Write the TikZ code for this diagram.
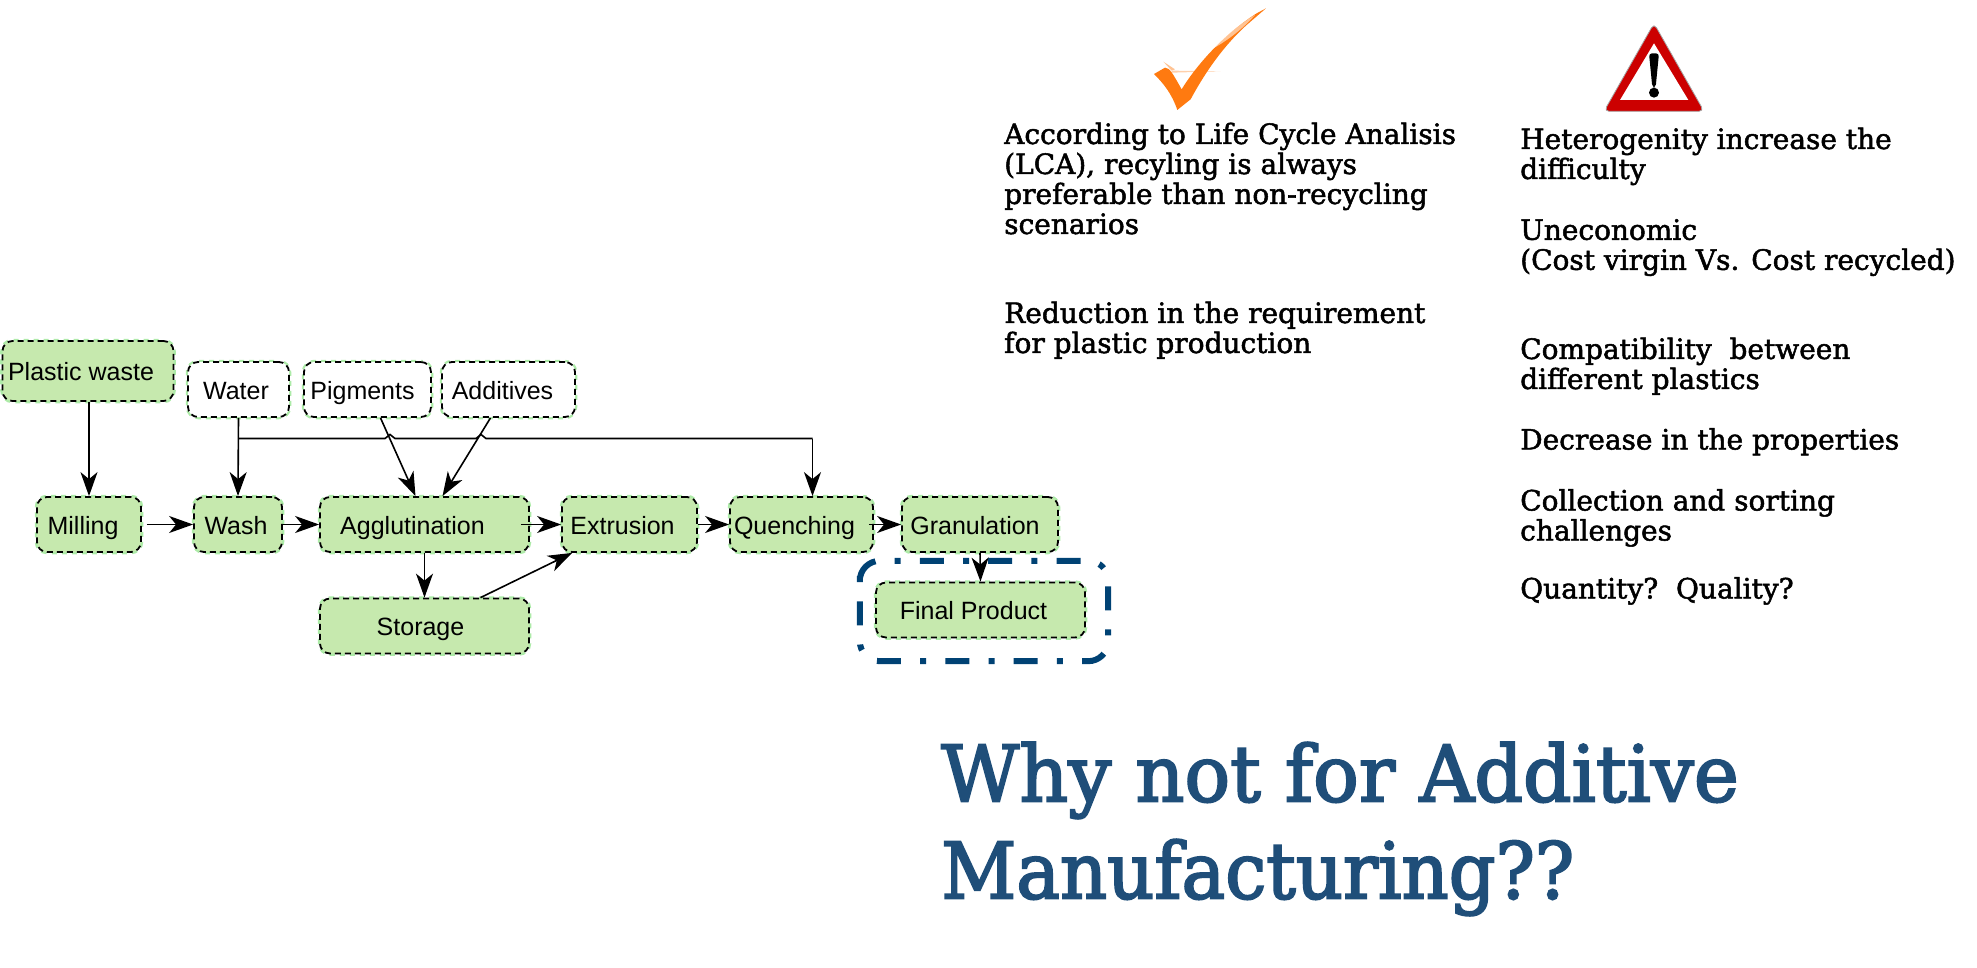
\documentclass[tikz,border=0pt]{standalone}
\usepackage{fontspec}
\setmainfont{Liberation Sans}
\newfontfamily\slabfont[FakeStretch=1.0, FakeBold=1.8]{DejaVu Serif}
\newfontfamily\titlefont[FakeStretch=0.975, FakeBold=2.5]{DejaVu Serif}
\usetikzlibrary{arrows.meta}
\definecolor{boxgreen}{HTML}{C6E9AE}
\definecolor{glowgreen}{HTML}{ADEBA8}
\definecolor{titleblue}{HTML}{1F4E79}
\definecolor{framenavy}{HTML}{004274}
\definecolor{tickorange}{HTML}{FF7A10}
\definecolor{signred}{HTML}{CC0000}
\tikzset{
  plainbox/.style={rounded corners=10pt, inner sep=0pt, draw=black, fill=white, line width=1.8pt,
    dash pattern=on 6pt off 4pt, font=\fontsize{25}{30}\selectfont,
    text height=21pt, text depth=2pt,
    preaction={draw=glowgreen, solid, line width=4.5pt, dash pattern=on 5pt off 5pt, dash phase=5pt}},
  processbox/.style={plainbox, fill=boxgreen},
  boxsize/.style 2 args={minimum width=#1pt, minimum height=#2pt},
  nudge/.style={execute at begin node={\kern-#1pt}},
  flow/.style={draw=black, line width=1.6pt, -{Stealth[length=24pt, width=17pt, inset=7pt]}},
  pipe/.style={draw=black, line width=1.6pt},
  slabtext/.style={inner sep=0pt, anchor=north west, align=left, font=\slabfont\fontsize{28}{30}\selectfont},
}
\begin{document}
\begin{tikzpicture}[x=1pt, y=-1pt]
        \useasboundingbox (0,0) rectangle (1977,968);
        % input boxes
        \node[processbox, boxsize={171}{60}, nudge=14] (plastic) at (88,371) {Plastic waste};
        \node[plainbox, boxsize={101}{55}, nudge=5] (water) at (238.5,389.5) {Water};
        \node[plainbox, boxsize={127}{55}, nudge=10] (pigments) at (367.5,389.5) {Pigments};
        \node[plainbox, boxsize={133}{55}, nudge=12] (additives) at (508.5,389.5) {Additives};
        % main line
        \node[processbox, boxsize={104}{55}, nudge=12] (milling) at (89,524.5) {Milling};
        \node[processbox, boxsize={88}{55}, nudge=4] (wash) at (238,524.5) {Wash};
        \node[processbox, boxsize={209}{55}, nudge=24] (agglu) at (424.5,524.5) {Agglutination};
        \node[processbox, boxsize={135}{55}, nudge=14] (extrusion) at (629.5,524.5) {Extrusion};
        \node[processbox, boxsize={143}{55}, nudge=14] (quenching) at (801.5,524.5) {Quenching};
        \node[processbox, boxsize={156}{55}, nudge=10] (granulation) at (980,524.5) {Granulation};
        \node[processbox, boxsize={209}{55}, nudge=8] (storage) at (424.5,626) {Storage};
        \node[processbox, boxsize={209}{55}, nudge=14] (final) at (980.5,610) {Final Product};
        % frame round the product
        \node[minimum width=248pt, minimum height=100pt, inner sep=0pt] (frame) at (984,611) {};
        \draw[framenavy, line width=6pt, rounded corners=20pt, dash pattern=on 24pt off 19.2pt on 6pt off 19.2pt, dash phase=55.4pt]
          ([yshift=-30pt]frame.north west) -- (frame.north west) -- (frame.north east)
          -- (frame.south east) -- (frame.south west) -- cycle;
        % water line with its jumps
        \coordinate (split) at (238.5,438.5);
        \coordinate (jumpa) at (390,438.5);
        \coordinate (jumpb) at (481,438.5);
        \coordinate (bend) at (812.5,438.5);
        \draw[pipe] (split) -- ([xshift=-5pt]jumpa) -- ([yshift=4pt]jumpa) -- ([xshift=5pt]jumpa)
          -- ([xshift=-5pt]jumpb) -- ([yshift=4pt]jumpb) -- ([xshift=5pt]jumpb) -- (bend);
        \draw[flow] (bend) -- ([xshift=11pt]quenching.north);
        % connectors
        \draw[flow] (plastic.south -| milling.north) -- (milling.north);
        \draw[flow] (water.south) -- (wash.north);
        \draw[flow] ([xshift=13pt]pigments.south) -- ([xshift=-9pt]agglu.north);
        \draw[flow] ([xshift=-18pt]additives.south) -- ([xshift=18pt]agglu.north);
        \draw[flow, shorten <=5pt] (milling.east) -- (wash.west);
        \draw[flow] (wash.east) -- (agglu.west);
        \draw[flow, shorten <=-9pt] (agglu.east) -- (extrusion.west);
        \draw[flow] (extrusion.east) -- (quenching.west);
        \draw[flow, shorten <=-5pt] (quenching.east) -- (granulation.west);
        \draw[flow] (agglu.south) -- (storage.north);
        \draw[flow] ([xshift=56pt]storage.north) -- ([xshift=11pt]extrusion.south west);
        \draw[flow] (granulation.south) -- (final.north);
        % tick
        \scope[shift={(980,0)}, x=0.3333pt, y=-0.3333pt]
        \fill[tickorange!45] (550,185) -- (585,208) -- (575,212) -- cycle;
        \fill[tickorange!35] (575,212) -- (722,214) -- (575,218) -- cycle;
        \fill[tickorange] (522,222) -- (555,203) .. controls (570,205) and (575,215) .. (605,268)
          .. controls (640,210) and (720,110) .. (830,40) -- (858,25) -- (800,75)
          .. controls (750,120) and (690,190) .. (632,298) -- (592,330)
          .. controls (575,280) and (550,250) .. cycle;
        \fill[white, opacity=.55] (700,145) .. controls (740,105) and (790,65) .. (825,45)
          .. controls (790,85) and (745,120) .. cycle;
        \endscope
        % warning sign
        \scope[shift={(1480,0)}, x=0.3333pt, y=-0.3333pt]
        \fill[signred, draw=black!35, line width=0.8pt, rounded corners=5pt] (522,70) -- (672,334) -- (372,334) -- cycle;
        \fill[white] (522,130) -- (625,300) -- (420,300) -- cycle;
        \fill[black, rounded corners=3pt] (507,160) -- (537,160) -- (527,262) -- (517,262) -- cycle;
        \fill[black] (522,278) circle (15);
        \endscope
        % text on the left
        \node[slabtext] (lca) at (1004,122.5) {According to Life Cycle Analisis\\(LCA), recyling is always\\preferable than non-recycling\\scenarios};
        \node[slabtext] (reduction) at (1004,301.5) {Reduction in the requirement\\for plastic production};
        % text on the right
        \node[slabtext] (hetero) at (1520,127.5) {Heterogenity increase the\\difficulty};
        \node[slabtext] (cost) at (1520,219) {Uneconomic\\(Cost virgin Vs. Cost recycled)};
        \node[slabtext] (compat) at (1520,337.5) {Compatibility\ \ between\\different plastics};
        \node[slabtext] (props) at (1520,428) {Decrease in the properties};
        \node[slabtext] (sorting) at (1520,489) {Collection and sorting\\challenges};
        \node[slabtext] (quantity) at (1520,577) {Quantity?\ \ Quality?};
        % title
        \node[inner sep=0pt, anchor=north west, align=left, text=titleblue, font=\titlefont\fontsize{78}{97}\selectfont] (why) at (941,742)
          {Why not for Additive\\{\addfontfeature{FakeStretch=0.94}Manufacturing??}};
      \end{tikzpicture}
\end{document}
